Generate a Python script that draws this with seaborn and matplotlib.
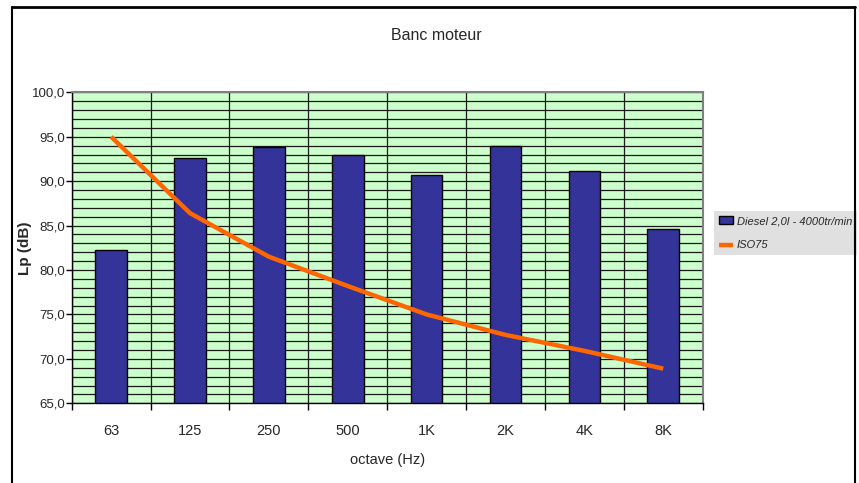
import matplotlib
matplotlib.use("Agg")
import matplotlib.pyplot as plt
from matplotlib.lines import Line2D
from matplotlib.ticker import MultipleLocator, FuncFormatter, FixedLocator
import seaborn as sns

# --------------------------------------------------
# Data
# --------------------------------------------------
octaves = ["63", "125", "250", "500", "1K", "2K", "4K", "8K"]
diesel = [82.2, 92.6, 93.9, 93.0, 90.7, 94.0, 91.1, 84.6]
iso75 = [95.0, 86.4, 81.5, 78.2, 75.0, 72.7, 70.9, 68.9]

label_diesel = "Diesel 2,0l - 4000tr/min"
label_iso = "ISO75"

# --------------------------------------------------
# Style
# --------------------------------------------------
sns.set_style("white")
plt.rcParams["font.family"] = ["Liberation Sans", "DejaVu Sans"]

W, H = 859, 483
fig = plt.figure(figsize=(W / 100, H / 100), dpi=100)
ax = fig.add_axes([71.7 / W, 1 - 403.3 / H, (702.7 - 71.7) / W, (403.3 - 92.3) / H])
ax.set_facecolor("#CCFFCC")
ax.set_axisbelow(True)

sns.barplot(x=octaves, y=diesel, color="#333399", saturation=1, edgecolor="black",
            linewidth=1, width=0.4, ax=ax, label=label_diesel)
sns.lineplot(x=octaves, y=iso75, color="#FF6600", linewidth=3.2, ax=ax,
             label=label_iso, sort=False, solid_capstyle="butt")

ax.set_xlim(-0.5, len(octaves) - 0.5)
ax.set_ylim(65, 100)

# y axis: labels every 5, grid every 1
ax.yaxis.set_major_locator(MultipleLocator(5))
ax.yaxis.set_minor_locator(MultipleLocator(1))
ax.yaxis.set_major_formatter(FuncFormatter(lambda v, p: f"{v:.1f}".replace(".", ",")))
ax.grid(which="both", axis="y", color="#1a1a1a", linewidth=0.9)
ax.tick_params(axis="y", which="major", direction="out", length=4, width=1,
               color="black", labelsize=9.5, pad=1, left=True)
ax.tick_params(axis="y", which="minor", length=0)

# x axis: tick marks and vertical grid at category boundaries
ax.xaxis.set_minor_locator(FixedLocator([i - 0.5 for i in range(len(octaves) + 1)]))
ax.grid(which="minor", axis="x", color="#1a1a1a", linewidth=0.9)
ax.tick_params(axis="x", which="major", length=0, labelsize=10.5, pad=15)
ax.tick_params(axis="x", which="minor", direction="out", length=5, width=1,
               color="black", bottom=True)

for side in ["left", "bottom"]:
    ax.spines[side].set_color("black")
    ax.spines[side].set_linewidth(1)
for side in ["top", "right"]:
    ax.spines[side].set_color("#808080")
    ax.spines[side].set_linewidth(1.5)

ax.set_xlabel("octave (Hz)", fontsize=10.5)
ax.xaxis.set_label_coords(0.5, -(453 - 403.3) / (403.3 - 92.3))
ax.set_ylabel("Lp (dB)", fontsize=11, fontweight="bold")
ax.yaxis.set_label_coords(-(71.7 - 32) / (702.7 - 71.7), 0.5)

fig.text(436 / W, 1 - 36 / H, "Banc moteur", ha="center", va="center", fontsize=11.5)

handles, labels = ax.get_legend_handles_labels()
order = [labels.index(label_diesel), labels.index(label_iso)]
leg = ax.legend([handles[i] for i in order], [labels[i] for i in order],
                loc="upper left", bbox_to_anchor=(714 / W, 1 - 211 / H),
                bbox_transform=fig.transFigure, borderaxespad=0, frameon=True,
                fancybox=False, facecolor="#e0e0e0", edgecolor="none", framealpha=1,
                prop={"style": "italic", "size": 8}, handlelength=1.3,
                handletextpad=0.3, labelspacing=1.3, borderpad=0.45)

# outer chart border
fig.add_artist(Line2D([12 / W, 855 / W], [1 - 7 / H, 1 - 7 / H], color="black", lw=2,
                      transform=fig.transFigure, zorder=5))
fig.add_artist(Line2D([12 / W, 12 / W], [0, 1 - 7 / H], color="black", lw=1.5,
                      transform=fig.transFigure, zorder=5))
fig.add_artist(Line2D([855 / W, 855 / W], [0, 1 - 7 / H], color="black", lw=1.5,
                      transform=fig.transFigure, zorder=5))

fig.savefig("out.png", dpi=100)
